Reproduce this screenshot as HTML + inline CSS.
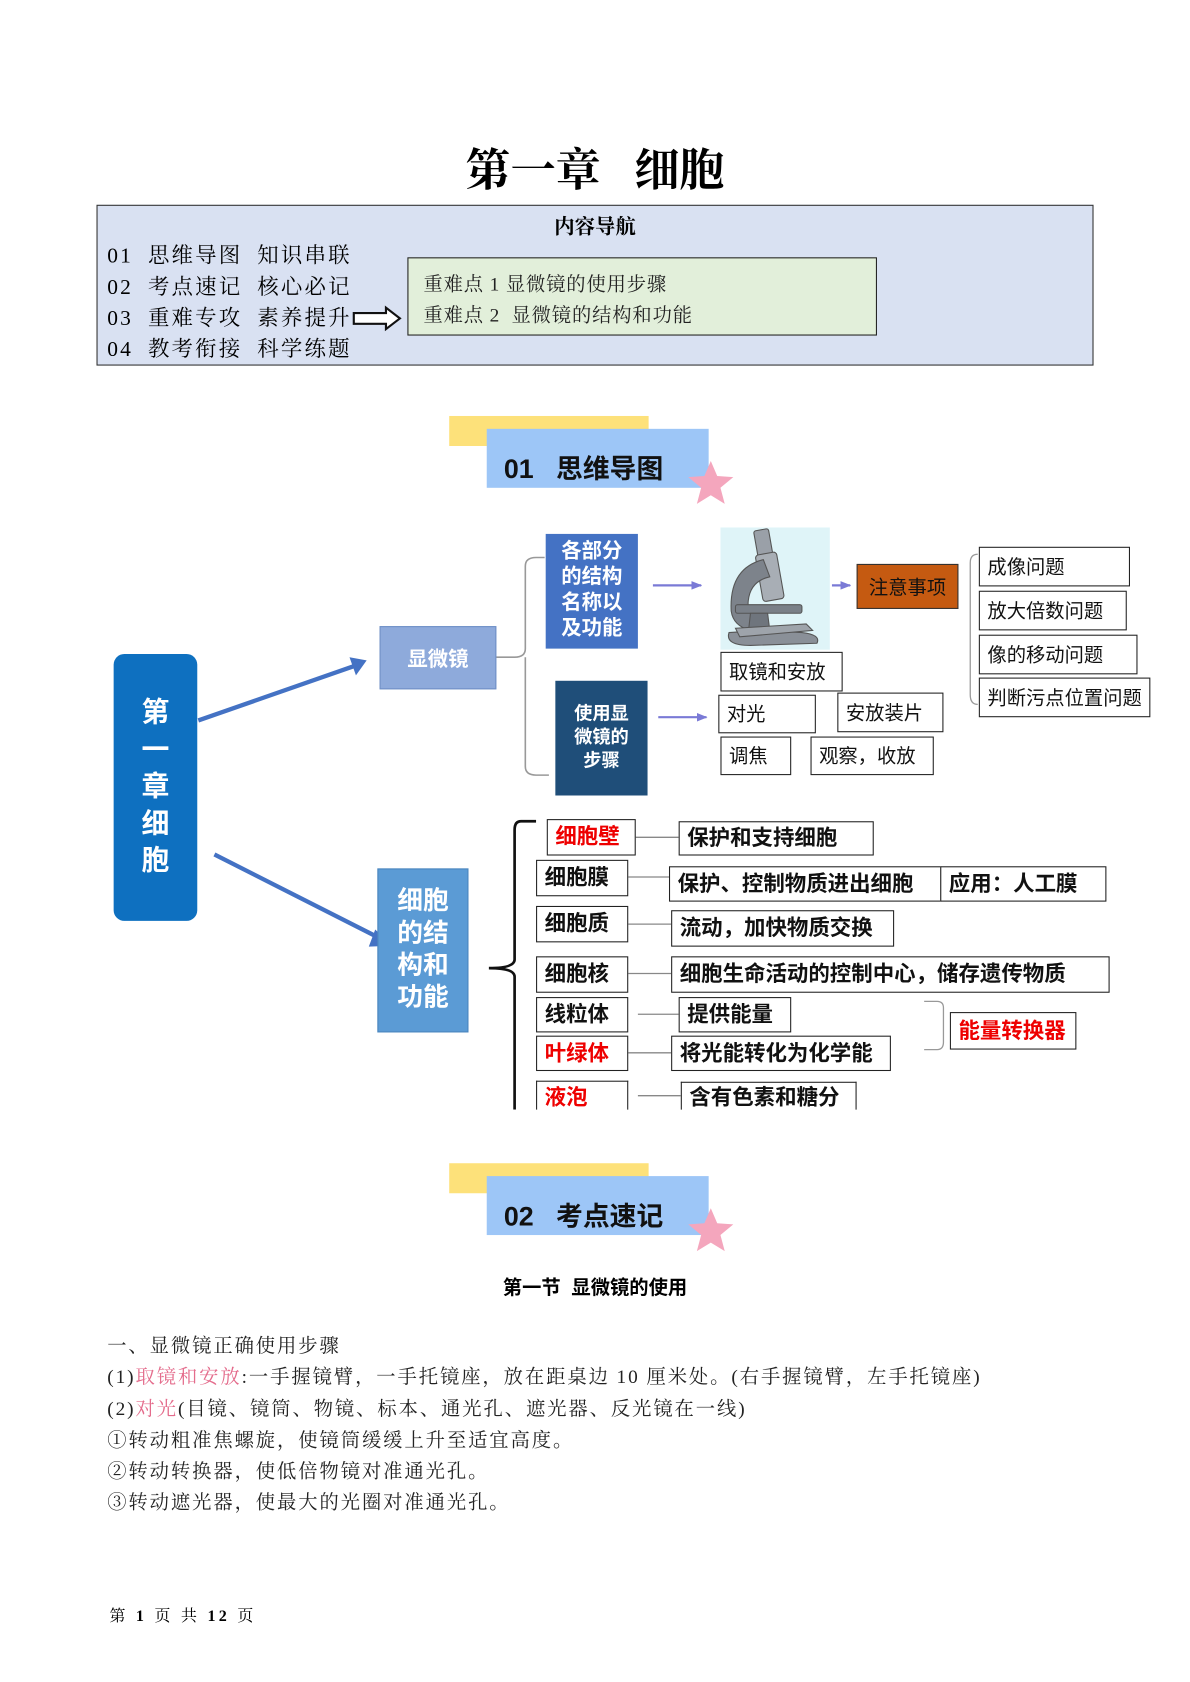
<!DOCTYPE html>
<html><head><meta charset="utf-8">
<style>
html,body{margin:0;padding:0;background:#fff;}
body{width:1190px;height:1682px;overflow:hidden;position:relative;}
#w{position:absolute;left:0;top:0;width:1110px;height:1569px;transform:scale(1.0721);transform-origin:0 0;}
.a{position:absolute;box-sizing:border-box;}
.serif{font-family:"Liberation Serif","Noto Serif CJK SC",serif;}
.sans{font-family:"Liberation Sans","Noto Sans CJK SC",sans-serif;}
.bx{position:absolute;box-sizing:border-box;border:1.5px solid #222;background:#fff;font-family:"Liberation Sans","Noto Sans CJK SC",sans-serif;font-size:18px;line-height:1;display:flex;align-items:center;padding-left:7px;white-space:nowrap;color:#111;}
.cb{font-weight:bold;font-size:20px;}
.red{color:#e00;}
.ln{position:absolute;font-family:"Liberation Serif","Noto Serif CJK SC",serif;font-size:18px;color:#222;white-space:nowrap;line-height:1;letter-spacing:1.8px;}
</style></head><body><div id="w">

<div class="a serif" style="left:0;width:1110px;top:135px;text-align:center;font-size:42px;font-weight:bold;line-height:50px;">第一章&nbsp;&nbsp;&nbsp;细胞</div>

<div class="a" style="left:90px;top:191px;width:930px;height:150px;background:#d9e1f2;border:1px solid #333;"></div>
<div class="a serif" style="left:90px;width:930px;top:197px;text-align:center;font-size:19px;font-weight:bold;">内容导航</div>
<div class="a serif" style="left:100px;top:225px;font-size:20px;line-height:29px;white-space:nowrap;letter-spacing:2px;">01&nbsp; 思维导图&nbsp; 知识串联<br>02&nbsp; 考点速记&nbsp; 核心必记<br>03&nbsp; 重难专攻&nbsp; 素养提升<br>04&nbsp; 教考衔接&nbsp; 科学练题</div>
<svg class="a" style="left:328px;top:285px" width="48" height="24"><path d="M2 7 H32 V2 L45 12 L32 22 V17 H2 Z" fill="#fff" stroke="#111" stroke-width="2"/></svg>
<div class="a" style="left:380px;top:240px;width:438px;height:73px;background:#e2efda;border:1.5px solid #222;"></div>
<div class="a serif" style="left:395px;top:251px;font-size:18px;line-height:29px;white-space:nowrap;color:#222;letter-spacing:0.8px;">重难点 1 显微镜的使用步骤<br>重难点 2&nbsp; 显微镜的结构和功能</div>

<!-- header 01 -->
<div class="a" style="left:419px;top:388px;width:186px;height:28px;background:#fde17a;"></div>
<div class="a" style="left:454px;top:400px;width:207px;height:55px;background:#9dc6f7;"></div>
<div class="a sans" style="left:470px;top:418px;font-size:25px;font-weight:bold;color:#111;white-space:nowrap;">01&nbsp;&nbsp;&nbsp;思维导图</div>
<svg class="a" style="left:640px;top:428px" width="46" height="46"><polygon points="23,2 29,16 44,17 32,27 36,42 23,34 10,42 14,27 2,17 17,16" fill="#f4a6bd"/></svg>

<!-- mindmap -->
<svg class="a" style="left:0;top:480px" width="1110" height="570">
<defs>
<marker id="ap" markerWidth="10" markerHeight="10" refX="9" refY="5" orient="auto" markerUnits="userSpaceOnUse"><path d="M0 1 L10 5 L0 9Z" fill="#7a7ad6"/></marker></defs>
<line x1="185" y1="192" x2="334" y2="140" stroke="#4472c4" stroke-width="4"/>
<path d="M342 136 L326 133 L332 150Z" fill="#4472c4"/>
<line x1="200" y1="317" x2="356" y2="396" stroke="#4472c4" stroke-width="4"/>
<path d="M366 402 L350 387 L344 403Z" fill="#4472c4"/>
<path d="M462 133 H480 Q490 133 490 125 V48 Q490 40 500 40 H508 M490 133 Q490 141 490 148 V235 Q490 243 500 243 H512" fill="none" stroke="#999" stroke-width="1.5"/>
<line x1="609" y1="66" x2="654" y2="66" stroke="#7a7ad6" stroke-width="2" marker-end="url(#ap)"/>
<line x1="614" y1="189" x2="659" y2="189" stroke="#7a7ad6" stroke-width="2" marker-end="url(#ap)"/>
<line x1="776" y1="66" x2="793" y2="66" stroke="#7a7ad6" stroke-width="2" marker-end="url(#ap)"/>
<path d="M912 37 Q905 37 905 45 V168 Q905 177 912 177" fill="none" stroke="#999" stroke-width="1.2"/>
<path d="M500 286 H486 Q480 286 480 294 V415 Q480 423 456 423 Q480 423 480 431 V555" fill="none" stroke="#111" stroke-width="2.5"/>
<g stroke="#888" stroke-width="1.2">
<line x1="592" y1="301" x2="633" y2="301"/>
<line x1="585" y1="338" x2="624" y2="338"/>
<line x1="585" y1="382" x2="626" y2="382"/>
<line x1="585" y1="428" x2="626" y2="428"/>
<line x1="595" y1="466" x2="633" y2="466"/>
<line x1="585" y1="502" x2="626" y2="502"/>
<line x1="595" y1="542" x2="635" y2="542"/>
</g>
<path d="M862 454 H874 Q880 454 880 460 V492 Q880 499 874 499 H862" fill="none" stroke="#999" stroke-width="1.2"/>
<rect x="672" y="12" width="102" height="114" fill="#dff4f8"/>
<g fill="#8a8f96" stroke="#555" stroke-width="1">
<rect x="705" y="14" width="14" height="26" rx="2" transform="rotate(-10 712 27)" fill="#9aa0a8"/>
<rect x="708" y="36" width="20" height="44" rx="3" transform="rotate(-10 718 58)" fill="#a8aeb5"/>
<path d="M712 42 Q680 50 682 90 Q684 104 700 108 L712 98 Q696 94 698 80 Q700 62 718 58Z" fill="#7d838b"/>
<rect x="686" y="84" width="62" height="8" rx="2" fill="#7a8088"/>
<path d="M700 92 L716 92 L718 108 L698 110Z" fill="#6f757d"/>
<path d="M680 110 Q676 122 700 122 L762 120 Q766 112 748 110 L712 108Z" fill="#8a9098"/>
<path d="M686 106 L752 102 L758 108 L690 114Z" fill="#9ea4ab"/>
</g>
</svg>

<div class="a sans" style="left:106px;top:610px;width:78px;height:249px;background:#0e70c0;border-radius:10px;color:#fff;font-weight:bold;font-size:26px;line-height:34.5px;text-align:center;padding-top:37px;">第<br>一<br>章<br>细<br>胞</div>
<div class="a sans" style="left:354px;top:584px;width:109px;height:59px;background:#8eaadb;border:1px solid #6f8fc6;color:#fff;font-size:19px;font-weight:bold;display:flex;align-items:center;justify-content:center;">显微镜</div>
<div class="a sans" style="left:509px;top:498px;width:86px;height:107px;background:#4472c4;color:#fff;font-size:19px;font-weight:bold;line-height:24px;text-align:center;padding-top:5px;">各部分<br>的结构<br>名称以<br>及功能</div>
<div class="a sans" style="left:518px;top:635px;width:86px;height:107px;background:#1f4e79;color:#fff;font-size:17px;font-weight:bold;line-height:22px;text-align:center;padding-top:20px;">使用显<br>微镜的<br>步骤</div>
<div class="a sans" style="left:799px;top:526px;width:95px;height:42px;background:#c55a11;border:1px solid #333;color:#111;font-size:18px;display:flex;align-items:center;justify-content:center;">注意事项</div>
<div class="bx" style="left:913px;top:510px;width:141px;height:37px;">成像问题</div>
<div class="bx" style="left:913px;top:551px;width:138px;height:37px;">放大倍数问题</div>
<div class="bx" style="left:913px;top:592px;width:148px;height:37px;">像的移动问题</div>
<div class="bx" style="left:913px;top:632px;width:160px;height:37px;">判断污点位置问题</div>
<div class="bx" style="left:672px;top:608px;width:114px;height:37px;">取镜和安放</div>
<div class="bx" style="left:670px;top:648px;width:91px;height:36px;">对光</div>
<div class="bx" style="left:781px;top:646px;width:99px;height:37px;">安放装片</div>
<div class="bx" style="left:672px;top:687px;width:66px;height:36px;">调焦</div>
<div class="bx" style="left:756px;top:687px;width:115px;height:36px;">观察，收放</div>

<div class="a sans" style="left:352px;top:810px;width:85px;height:153px;background:#5b9bd5;border:1px solid #4a85bd;color:#fff;font-size:24px;font-weight:bold;line-height:30px;text-align:center;padding-top:15px;">细胞<br>的结<br>构和<br>功能</div>

<div class="bx cb red" style="left:510px;top:764px;width:83px;height:34px;">细胞壁</div>
<div class="bx cb" style="left:633px;top:766px;width:182px;height:32px;">保护和支持细胞</div>
<div class="bx cb" style="left:500px;top:802px;width:86px;height:34px;">细胞膜</div>
<div class="bx cb" style="left:624px;top:808px;width:254px;height:33px;">保护、控制物质进出细胞</div>
<div class="bx cb" style="left:877px;top:808px;width:155px;height:33px;">应用：人工膜</div>
<div class="bx cb" style="left:500px;top:845px;width:86px;height:34px;">细胞质</div>
<div class="bx cb" style="left:626px;top:849px;width:208px;height:34px;">流动，加快物质交换</div>
<div class="bx cb" style="left:500px;top:892px;width:86px;height:34px;">细胞核</div>
<div class="bx cb" style="left:626px;top:892px;width:409px;height:34px;">细胞生命活动的控制中心，储存遗传物质</div>
<div class="bx cb" style="left:500px;top:930px;width:86px;height:33px;">线粒体</div>
<div class="bx cb" style="left:633px;top:930px;width:105px;height:33px;">提供能量</div>
<div class="bx cb red" style="left:500px;top:966px;width:86px;height:33px;">叶绿体</div>
<div class="bx cb" style="left:626px;top:966px;width:205px;height:33px;">将光能转化为化学能</div>
<div class="bx cb red" style="left:886px;top:944px;width:118px;height:35px;">能量转换器</div>
<div class="bx cb red" style="left:500px;top:1008px;width:86px;height:30px;border-bottom:none;">液泡</div>
<div class="bx cb" style="left:635px;top:1009px;width:164px;height:29px;border-bottom:none;">含有色素和糖分</div>
<div class="a" style="left:0;top:1035px;width:1110px;height:10px;background:#fff;"></div>

<!-- header 02 -->
<div class="a" style="left:419px;top:1085px;width:186px;height:28px;background:#fde17a;"></div>
<div class="a" style="left:454px;top:1097px;width:207px;height:55px;background:#9dc6f7;"></div>
<div class="a sans" style="left:470px;top:1115px;font-size:25px;font-weight:bold;color:#111;white-space:nowrap;">02&nbsp;&nbsp;&nbsp;考点速记</div>
<svg class="a" style="left:640px;top:1125px" width="46" height="46"><polygon points="23,2 29,16 44,17 32,27 36,42 23,34 10,42 14,27 2,17 17,16" fill="#f4a6bd"/></svg>

<div class="a sans" style="left:0;width:1110px;top:1187px;text-align:center;font-size:18px;font-weight:bold;">第一节&nbsp; 显微镜的使用</div>

<div class="ln" style="left:100px;top:1246px;">一、显微镜正确使用步骤</div>
<div class="ln" style="left:100px;top:1275px;">(1)<span style="color:#e46c8c">取镜和安放</span>:一手握镜臂，一手托镜座，放在距桌边 10 厘米处。(右手握镜臂，左手托镜座)</div>
<div class="ln" style="left:100px;top:1305px;">(2)<span style="color:#e46c8c">对光</span>(目镜、镜筒、物镜、标本、通光孔、遮光器、反光镜在一线)</div>
<div class="ln" style="left:100px;top:1334px;">①转动粗准焦螺旋，使镜筒缓缓上升至适宜高度。</div>
<div class="ln" style="left:100px;top:1363px;">②转动转换器，使低倍物镜对准通光孔。</div>
<div class="ln" style="left:100px;top:1392px;">③转动遮光器，使最大的光圈对准通光孔。</div>

<div class="a serif" style="left:102px;top:1496px;font-size:15px;white-space:nowrap;letter-spacing:3px;">第 <b>1</b> 页 共 <b>12</b> 页</div>
</div></body></html>
